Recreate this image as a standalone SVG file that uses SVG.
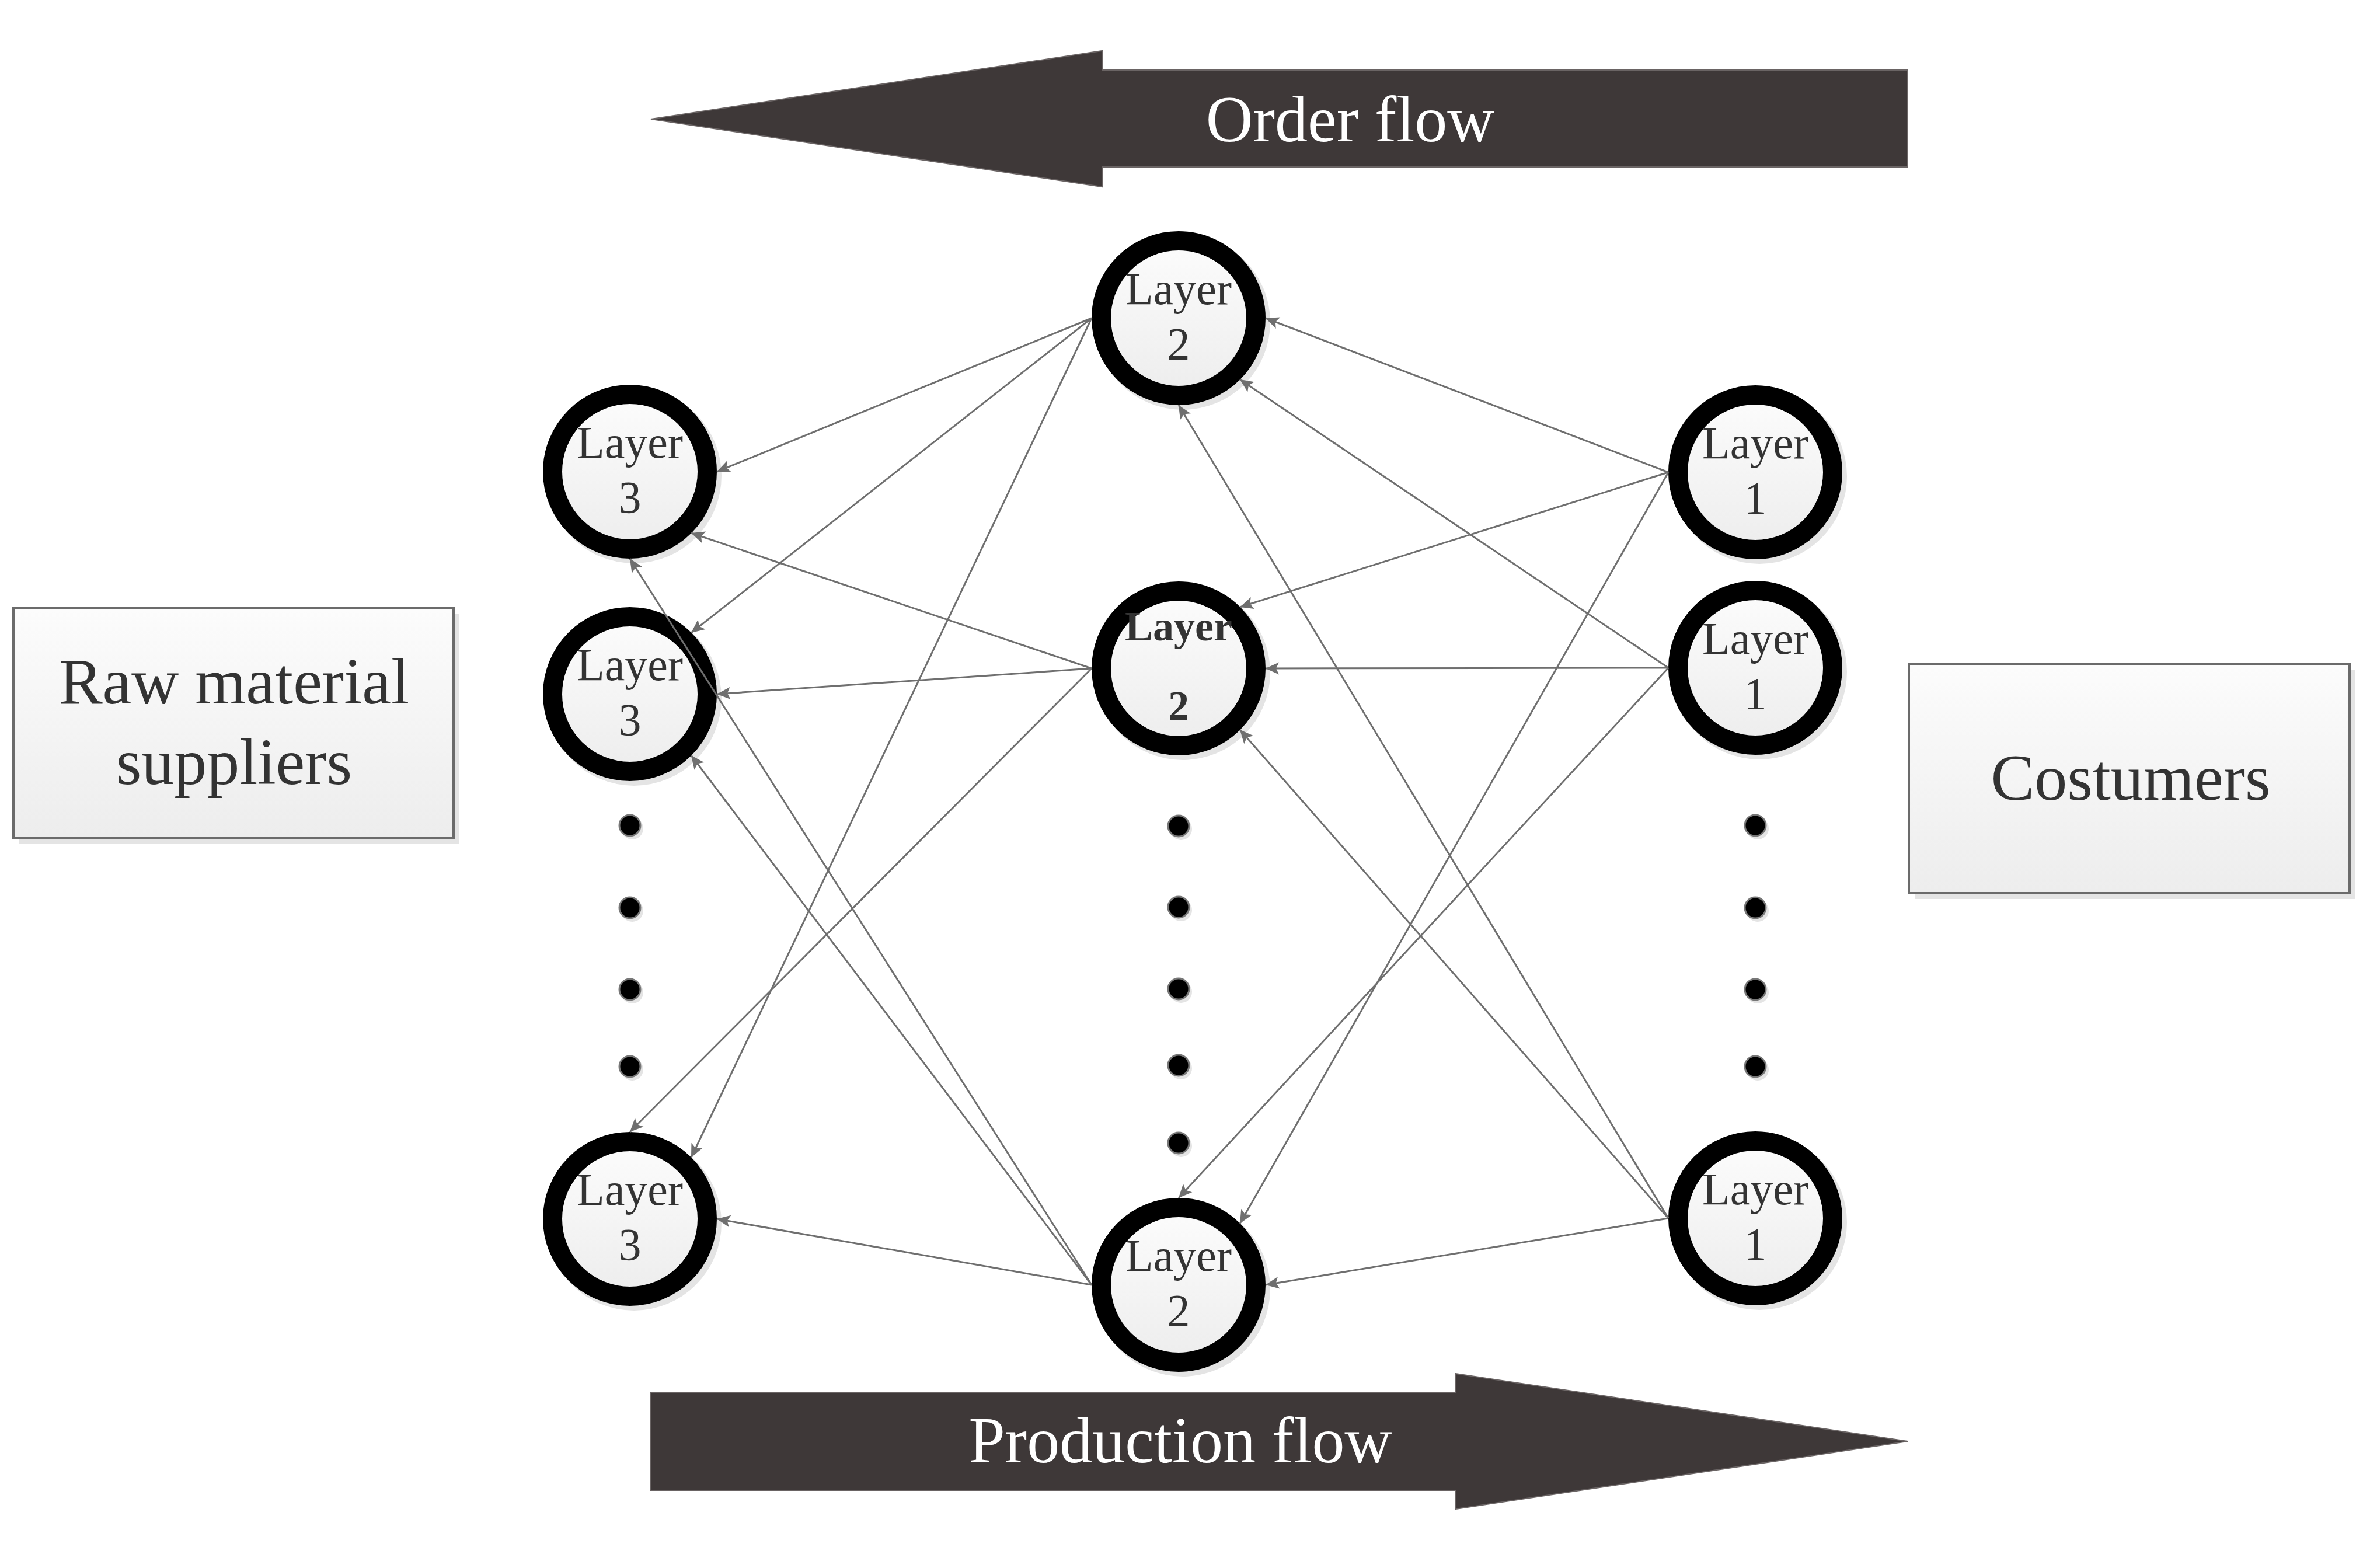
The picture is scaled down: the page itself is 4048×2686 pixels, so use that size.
<svg xmlns="http://www.w3.org/2000/svg" width="4048" height="2686" viewBox="0 0 4048 2686">
<defs>
<linearGradient id="nodeFill" x1="0" y1="0" x2="0" y2="1">
<stop offset="0" stop-color="#fcfcfc"/>
<stop offset="1" stop-color="#ededed"/>
</linearGradient>
<marker id="ah" markerUnits="userSpaceOnUse" viewBox="-24 -12 26 24" refX="0" refY="0" markerWidth="26" markerHeight="24" orient="auto">
<path d="M0,0 L-23,-10.5 L-18,0 L-23,10.5 Z" fill="#6f6f6f"/>
</marker>
<style>
.ring{fill:url(#nodeFill);stroke:#000;stroke-width:33}
.shadow{fill:#e4e4e4}
.lbl{font-family:"Liberation Serif","Times New Roman",serif;font-size:78px;fill:#333;text-anchor:middle}
.lblb{font-family:"Liberation Serif","Times New Roman",serif;font-size:72px;font-weight:bold;fill:#333;text-anchor:middle}
.big{font-family:"Liberation Serif","Times New Roman",serif;font-size:112px;fill:#333;text-anchor:middle}
.flowtxt{font-family:"Liberation Serif","Times New Roman",serif;font-size:112px;fill:#fff;text-anchor:middle}
.box{fill:url(#nodeFill);stroke:#6b6b6b;stroke-width:4}
.flow{fill:#3e3838;stroke:#6a6464;stroke-width:2}
.dot{fill:#000;stroke:#777;stroke-width:3}
.conn line{stroke:#6f6f6f;stroke-width:3;marker-end:url(#ah)}
</style>
</defs>
<rect width="4048" height="2686" fill="#fff"/>

<g id="order-flow">
<path class="flow" d="M1115,204 L1888,87 L1888,120 L3268,120 L3268,286 L1888,286 L1888,320 Z"/>
<text class="flowtxt" x="2313" y="242">Order flow</text>
</g>

<g id="production-flow">
<path class="flow" d="M1114,2386 L2493,2386 L2493,2353 L3268,2469 L2493,2585 L2493,2553 L1114,2553 Z"/>
<text class="flowtxt" x="2022" y="2505">Production flow</text>
</g>

<g id="raw-material-suppliers">
<rect class="shadow" x="33" y="1051" width="754" height="394"/>
<rect class="box" x="23" y="1041" width="754" height="394"/>
<text class="big" x="401" y="1205">Raw material</text>
<text class="big" x="401" y="1343">suppliers</text>
</g>

<g id="costumers">
<rect class="shadow" x="3280" y="1147" width="755" height="393"/>
<rect class="box" x="3270" y="1137" width="755" height="393"/>
<text class="big" x="3650" y="1370">Costumers</text>
</g>

<g id="L1">
<circle class="shadow" cx="1086" cy="815" r="150"/>
<circle class="ring" cx="1079" cy="808" r="132.5"/>
<text class="lbl" x="1079" y="784">Layer</text>
<text class="lbl" x="1079" y="878">3</text>
</g>
<g id="L2">
<circle class="shadow" cx="1086" cy="1196" r="150"/>
<circle class="ring" cx="1079" cy="1189" r="132.5"/>
<text class="lbl" x="1079" y="1165">Layer</text>
<text class="lbl" x="1079" y="1259">3</text>
</g>
<g id="L3">
<circle class="shadow" cx="1086" cy="2095" r="150"/>
<circle class="ring" cx="1079" cy="2088" r="132.5"/>
<text class="lbl" x="1079" y="2064">Layer</text>
<text class="lbl" x="1079" y="2158">3</text>
</g>

<g id="M1">
<circle class="shadow" cx="2026" cy="552" r="150"/>
<circle class="ring" cx="2019" cy="545" r="132.5"/>
<text class="lbl" x="2019" y="521">Layer</text>
<text class="lbl" x="2019" y="615">2</text>
</g>
<g id="M2">
<circle class="shadow" cx="2026" cy="1152" r="150"/>
<circle class="ring" cx="2019" cy="1145" r="132.5"/>
<text class="lblb" x="2019" y="1097">Layer</text>
<text class="lblb" x="2019" y="1233">2</text>
</g>
<g id="M3">
<circle class="shadow" cx="2026" cy="2208" r="150"/>
<circle class="ring" cx="2019" cy="2201" r="132.5"/>
<text class="lbl" x="2019" y="2177">Layer</text>
<text class="lbl" x="2019" y="2271">2</text>
</g>

<g id="R1">
<circle class="shadow" cx="3014" cy="816" r="150"/>
<circle class="ring" cx="3007" cy="809" r="132.5"/>
<text class="lbl" x="3007" y="785">Layer</text>
<text class="lbl" x="3007" y="879">1</text>
</g>
<g id="R2">
<circle class="shadow" cx="3014" cy="1151" r="150"/>
<circle class="ring" cx="3007" cy="1144" r="132.5"/>
<text class="lbl" x="3007" y="1120">Layer</text>
<text class="lbl" x="3007" y="1214">1</text>
</g>
<g id="R3">
<circle class="shadow" cx="3014" cy="2094" r="150"/>
<circle class="ring" cx="3007" cy="2087" r="132.5"/>
<text class="lbl" x="3007" y="2063">Layer</text>
<text class="lbl" x="3007" y="2157">1</text>
</g>

<g id="dots-left">
<circle class="shadow" cx="1083" cy="1419" r="19"/><circle class="dot" cx="1079" cy="1414" r="18"/>
<circle class="shadow" cx="1083" cy="1560" r="19"/><circle class="dot" cx="1079" cy="1555" r="18"/>
<circle class="shadow" cx="1083" cy="1700" r="19"/><circle class="dot" cx="1079" cy="1695" r="18"/>
<circle class="shadow" cx="1083" cy="1832" r="19"/><circle class="dot" cx="1079" cy="1827" r="18"/>
</g>
<g id="dots-middle">
<circle class="shadow" cx="2023" cy="1420" r="19"/><circle class="dot" cx="2019" cy="1415" r="18"/>
<circle class="shadow" cx="2023" cy="1559" r="19"/><circle class="dot" cx="2019" cy="1554" r="18"/>
<circle class="shadow" cx="2023" cy="1699" r="19"/><circle class="dot" cx="2019" cy="1694" r="18"/>
<circle class="shadow" cx="2023" cy="1830" r="19"/><circle class="dot" cx="2019" cy="1825" r="18"/>
<circle class="shadow" cx="2023" cy="1963" r="19"/><circle class="dot" cx="2019" cy="1958" r="18"/>
</g>
<g id="dots-right">
<circle class="shadow" cx="3011" cy="1419" r="19"/><circle class="dot" cx="3007" cy="1414" r="18"/>
<circle class="shadow" cx="3011" cy="1560" r="19"/><circle class="dot" cx="3007" cy="1555" r="18"/>
<circle class="shadow" cx="3011" cy="1700" r="19"/><circle class="dot" cx="3007" cy="1695" r="18"/>
<circle class="shadow" cx="3011" cy="1832" r="19"/><circle class="dot" cx="3007" cy="1827" r="18"/>
</g>

<g class="conn" id="connectors">
<line x1="1870" y1="545" x2="1228" y2="808"/>
<line x1="1870" y1="545" x2="1184" y2="1084"/>
<line x1="1870" y1="545" x2="1184" y2="1983"/>
<line x1="1870" y1="1145" x2="1184" y2="913"/>
<line x1="1870" y1="1145" x2="1228" y2="1189"/>
<line x1="1870" y1="1145" x2="1079" y2="1939"/>
<line x1="1870" y1="2201" x2="1079" y2="957"/>
<line x1="1870" y1="2201" x2="1184" y2="1294"/>
<line x1="1870" y1="2201" x2="1228" y2="2088"/>
<line x1="2858" y1="809" x2="2168" y2="545"/>
<line x1="2858" y1="809" x2="2124" y2="1040"/>
<line x1="2858" y1="809" x2="2124" y2="2096"/>
<line x1="2858" y1="1144" x2="2124" y2="650"/>
<line x1="2858" y1="1144" x2="2168" y2="1145"/>
<line x1="2858" y1="1144" x2="2019" y2="2052"/>
<line x1="2858" y1="2087" x2="2019" y2="694"/>
<line x1="2858" y1="2087" x2="2124" y2="1250"/>
<line x1="2858" y1="2087" x2="2168" y2="2201"/>
</g>
</svg>
